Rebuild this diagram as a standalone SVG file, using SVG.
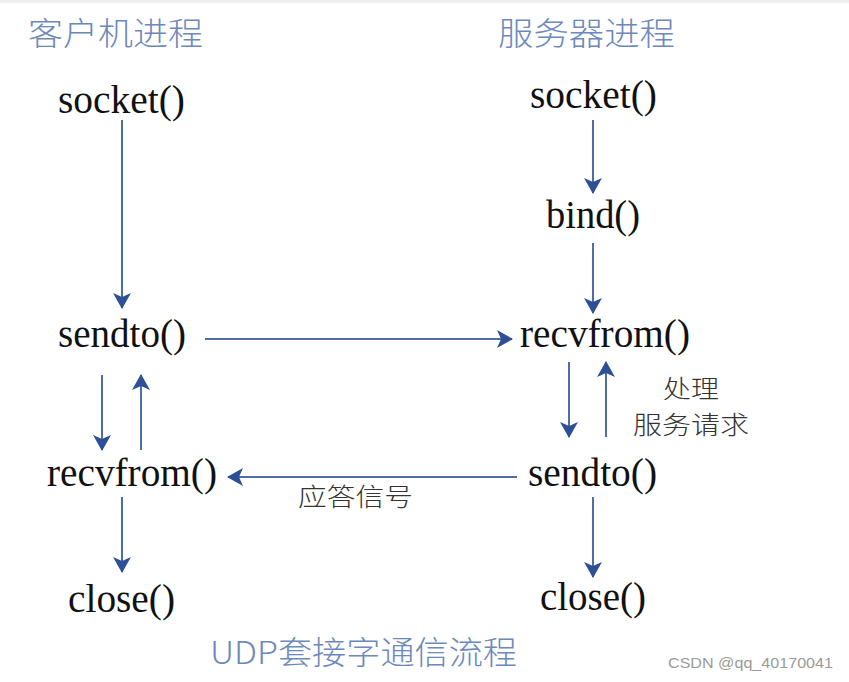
<svg xmlns="http://www.w3.org/2000/svg" width="849" height="682" viewBox="0 0 849 682">
<defs>
<marker id="ah" viewBox="0 0 16 18" refX="15" refY="9" markerWidth="16" markerHeight="18" markerUnits="userSpaceOnUse" orient="auto">
<path d="M0,0 L16,9 L0,18 L4,9 Z" fill="#2c4f96"/>
</marker>
<style>
.fn{font-family:"Liberation Serif","Times New Roman",serif;font-size:40px;fill:#111;}
.title{font-family:"Noto Sans CJK SC",sans-serif;font-size:32px;fill:#6d89bb;font-weight:300;}
.lbl{font-family:"Noto Sans CJK SC",sans-serif;font-size:25px;fill:#333;font-weight:300;}
.c{stroke:#4f6ea6;stroke-width:2;fill:none;marker-end:url(#ah);}
</style>
</defs>
<rect width="849" height="682" fill="#ffffff"/>
<rect width="849" height="3" fill="#eeeeee"/>
<g id="titles">
<text class="title" x="28" y="45" textLength="175" lengthAdjust="spacingAndGlyphs">客户机进程</text>
<text class="title" x="498" y="45" textLength="177" lengthAdjust="spacingAndGlyphs">服务器进程</text>
</g>
<g id="c-socket"><text class="fn" x="58" y="113" textLength="127" lengthAdjust="spacingAndGlyphs">socket()</text></g>
<g id="c-sendto"><text class="fn" x="58" y="347" textLength="128" lengthAdjust="spacingAndGlyphs">sendto()</text></g>
<g id="c-recvfrom"><text class="fn" x="47" y="486" textLength="170" lengthAdjust="spacingAndGlyphs">recvfrom()</text></g>
<g id="c-close"><text class="fn" x="68" y="612" textLength="107" lengthAdjust="spacingAndGlyphs">close()</text></g>
<g id="s-socket"><text class="fn" x="530" y="108" textLength="127" lengthAdjust="spacingAndGlyphs">socket()</text></g>
<g id="s-bind"><text class="fn" x="546" y="228" textLength="94" lengthAdjust="spacingAndGlyphs">bind()</text></g>
<g id="s-recvfrom"><text class="fn" x="520" y="347" textLength="170" lengthAdjust="spacingAndGlyphs">recvfrom()</text></g>
<g id="s-sendto"><text class="fn" x="528" y="486" textLength="129" lengthAdjust="spacingAndGlyphs">sendto()</text></g>
<g id="s-close"><text class="fn" x="540" y="610" textLength="106" lengthAdjust="spacingAndGlyphs">close()</text></g>
<g id="labels">
<text class="lbl" x="663" y="398" textLength="56" lengthAdjust="spacingAndGlyphs">处理</text>
<text class="lbl" x="633" y="434" textLength="116" lengthAdjust="spacingAndGlyphs">服务请求</text>
<text class="lbl" x="298" y="506" textLength="115" lengthAdjust="spacingAndGlyphs">应答信号</text>
</g>
<g id="connectors">
<line class="c" x1="122" y1="120" x2="122" y2="308"/>
<line class="c" x1="593" y1="120" x2="593" y2="193"/>
<line class="c" x1="593" y1="243" x2="593" y2="313"/>
<line class="c" x1="205" y1="339" x2="512" y2="339"/>
<line class="c" x1="102" y1="375" x2="102" y2="450"/>
<line class="c" x1="141" y1="450" x2="141" y2="375"/>
<line class="c" x1="569" y1="362" x2="569" y2="437"/>
<line class="c" x1="606" y1="437" x2="606" y2="362"/>
<line class="c" x1="517" y1="477" x2="228" y2="477"/>
<line class="c" x1="122" y1="497" x2="122" y2="572"/>
<line class="c" x1="593" y1="497" x2="593" y2="577"/>
</g>
<g id="caption">
<text class="title" x="210" y="664" textLength="307" lengthAdjust="spacingAndGlyphs">UDP套接字通信流程</text>
</g>
<text x="668" y="668" font-family="Liberation Sans, Arial, sans-serif" font-size="15" fill="#9a9a9a" textLength="165" lengthAdjust="spacingAndGlyphs">CSDN @qq_40170041</text>
</svg>
